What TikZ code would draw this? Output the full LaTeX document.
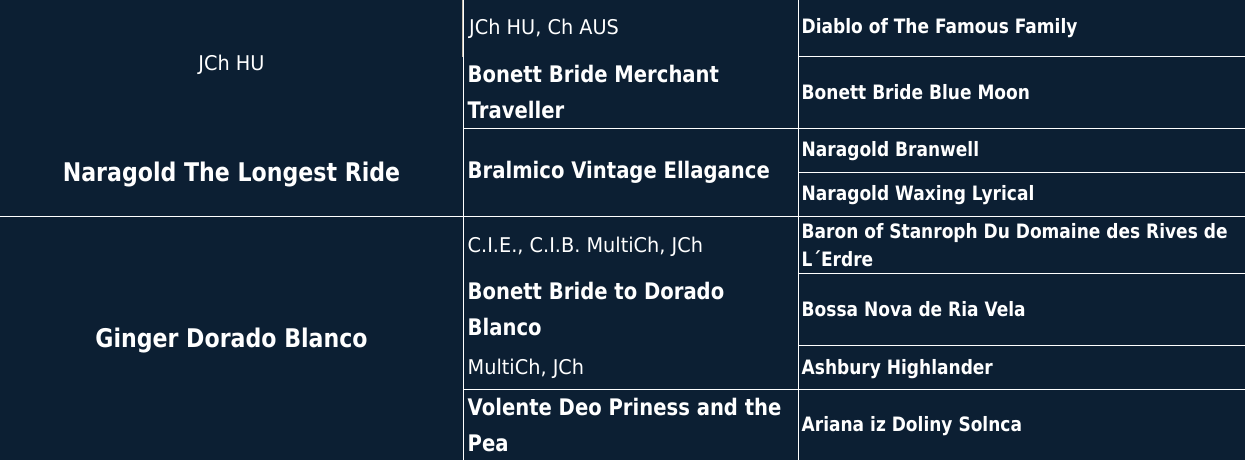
\documentclass[tikz,border=0pt]{standalone}
\usepackage{fontspec}
\setmainfont{DejaVu Sans}
\newfontfamily\namefont[FakeStretch=0.86]{DejaVu Sans}
\newfontfamily\tagfont[FakeStretch=0.95]{DejaVu Sans}
\definecolor{pedigreebg}{RGB}{12,31,51}
\definecolor{scrollmark}{RGB}{196,186,170}

\begin{document}
\begin{tikzpicture}[x=1pt, y=-1pt,
    grid/.style={draw=white, line width=1pt},
    tagtext/.style={text=white, inner sep=0pt, font=\tagfont\fontsize{20.3}{24}\selectfont},
    dog-1/.style={text=white, inner sep=0pt, font=\namefont\bfseries\fontsize{25.7}{30}\selectfont},
    dog-2/.style={text=white, inner sep=0pt, font=\namefont\bfseries\fontsize{22.8}{27}\selectfont},
    dog-3/.style={text=white, inner sep=0pt, font=\namefont\bfseries\fontsize{19.8}{24}\selectfont}]
  % Background
  \fill[pedigreebg] (0,0) rectangle (1245,460);
  \useasboundingbox (0,0) rectangle (1245,460);
  % First column
  \node[tagtext, anchor=base] (tag-1-1) at (231.5,70.5) {JCh HU};
  \node[dog-1, anchor=base] (dog-1-1) at (231.5,181) {Naragold The Longest Ride};
  \node[dog-1, anchor=base] (dog-1-2) at (231.5,347.5) {Ginger Dorado Blanco};
  % Second column
  \node[tagtext, anchor=base west] (tag-2-1) at (469,35) {JCh HU, Ch AUS};
  \node[dog-2, anchor=base west] (dog-2-1a) at (467.5,82) {Bonett Bride Merchant};
  \node[dog-2, anchor=base west] (dog-2-1b) at (467.5,118.5) {Traveller};
  \node[dog-2, anchor=base west] (dog-2-2) at (467.5,178) {Bralmico Vintage Ellagance};
  \node[tagtext, anchor=base west] (tag-2-3) at (467.5,252) {C.I.E., C.I.B. MultiCh, JCh};
  \node[dog-2, anchor=base west] (dog-2-3a) at (467.5,299) {Bonett Bride to Dorado};
  \node[dog-2, anchor=base west] (dog-2-3b) at (467.5,335.5) {Blanco};
  \node[tagtext, anchor=base west] (tag-2-4) at (467.5,374) {MultiCh, JCh};
  \node[dog-2, anchor=base west] (dog-2-4a) at (467.5,415) {Volente Deo Priness and the};
  \node[dog-2, anchor=base west] (dog-2-4b) at (467.5,451.5) {Pea};
  % Third column
  \foreach \dog/\y [count=\x] in {Diablo of The Famous Family/34, Bonett Bride Blue Moon/99.3,
      Naragold Branwell/156.7, Naragold Waxing Lyrical/200,
      Baron of Stanroph Du Domaine des Rives de/238.3, L´Erdre/266.7,
      Bossa Nova de Ria Vela/316, Ashbury Highlander/374, Ariana iz Doliny Solnca/431.7}
    \node[dog-3, anchor=base west] (dog-3-\x) at (801.5,\y) {\dog};
  % Grid lines
  \draw[grid] (0,216) -- (1245,216);
  \draw[grid] (463,0) -- (463,460);
  \draw[grid] (798,0) -- (798,460);
  \foreach \y in {128, 389}
    \draw[grid] (463,\y) -- (1245,\y);
  \foreach \y in {57, 172, 273, 345}
    \draw[grid] (798,\y) -- (1245,\y);
  \draw[scrollmark, line width=1.6pt] (462.5,0) -- (462.5,57);
\end{tikzpicture}
\end{document}
